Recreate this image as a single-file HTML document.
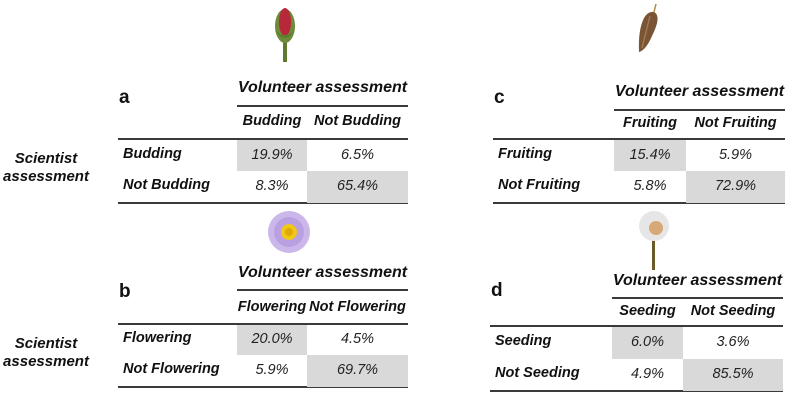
<!DOCTYPE html>
<html><head><meta charset="utf-8"><style>
body{margin:0;background:#fff;}
#root{position:relative;width:810px;height:410px;overflow:hidden;font-family:"Liberation Sans",Arial,sans-serif;color:#111;}
.t{position:absolute;white-space:nowrap;font-style:italic;font-size:14.5px;line-height:16px;}
.b{font-weight:bold;}
.ln{position:absolute;height:2px;background:#3a3a3a;}
.sh{position:absolute;background:#d9d9d9;}
.lbl{position:absolute;font-weight:bold;font-size:19px;line-height:20px;}
</style></head><body>
<div id="root">
<div class="t b" style="left:2px;top:150px;text-align:center;width:88px;font-size:15px;line-height:18px">Scientist<br>assessment</div>
<div class="t b" style="left:2px;top:335px;text-align:center;width:88px;font-size:15px;line-height:18px">Scientist<br>assessment</div>

<svg style="position:absolute;left:270px;top:0" width="30" height="62">
<rect x="13" y="40" width="4" height="22" fill="#5f7a2e"/>
<ellipse cx="15" cy="26" rx="10" ry="17" fill="#6d8b3a"/>
<ellipse cx="15" cy="22" rx="6" ry="14" fill="#b8283a"/>
<path d="M5 30 Q15 46 25 30 Q15 40 5 30" fill="#5d7c30"/>
</svg>
<svg style="position:absolute;left:636px;top:2px" width="26" height="52">
<path d="M20 2 L18 10" stroke="#b08a4a" stroke-width="1.5"/>
<path d="M18 10 Q26 14 16 34 Q10 48 3 50 Q2 28 8 16 Q12 9 18 10Z" fill="#7a5535"/>
<path d="M14 14 Q10 30 6 46" stroke="#a07850" stroke-width="1.5" fill="none"/>
</svg>
<svg style="position:absolute;left:264px;top:208px" width="50" height="50">
<circle cx="25" cy="24" r="21" fill="#cbb7ea"/>
<circle cx="25" cy="24" r="15" fill="#b9a0e0"/>
<circle cx="25" cy="24" r="8" fill="#f2c816"/>
<circle cx="25" cy="24" r="4" fill="#e0a80a"/>
</svg>
<svg style="position:absolute;left:630px;top:206px" width="50" height="64">
<rect x="22" y="30" width="3" height="34" fill="#6b5a2a"/>
<circle cx="24" cy="20" r="15" fill="#e6e6e6"/>
<circle cx="26" cy="22" r="7" fill="#d8a878"/>
</svg>
<div id="panels"></div>
</div>
<script>
const panelLetters = ['a','b','c','d'];
const rowLabels = [['Budding','Not Budding'],['Flowering','Not Flowering'],['Fruiting','Not Fruiting'],['Seeding','Not Seeding']];
const colLabels = [['Budding','Not Budding'],['Flowering','Not Flowering'],['Fruiting','Not Fruiting'],['Seeding','Not Seeding']];
const cellValues = [[[19.9,6.5],[8.3,65.4]],[[20.0,4.5],[5.9,69.7]],[[15.4,5.9],[5.8,72.9]],[[6.0,3.6],[4.9,85.5]]];
// layout (not data)
const L=[{x0:118,xs:237,xm:307,xe:408,hy:79,l1:105,cy:113,l2:138,r1:139,r2:170,r3:202,ly:88},
{x0:118,xs:237,xm:307,xe:408,hy:264,l1:289,cy:299,l2:323,r1:324,r2:354,r3:386,ly:282},
{x0:493,xs:614,xm:686,xe:785,hy:83,l1:109,cy:115,l2:138,r1:139,r2:170,r3:202,ly:88},
{x0:490,xs:612,xm:683,xe:783,hy:272,l1:297,cy:303,l2:325,r1:326,r2:358,r3:390,ly:281}];
const host=document.getElementById('panels');
function add(cls,style,text){const d=document.createElement('div');d.className=cls;d.style.cssText=style;if(text!=null)d.textContent=text;host.appendChild(d);return d;}
panelLetters.forEach((p,i)=>{const g=L[i];
 let e=add('lbl',`left:${g.x0+1}px;top:${g.ly}px`,p);
 
 
 e=add('t b',`left:${g.xs-10}px;width:${g.xe-g.xs+20}px;text-align:center;top:${g.hy}px;font-size:16px;line-height:18px`,'Volunteer assessment');
 
 
 e=add('ln',`left:${g.xs}px;width:${g.xe-g.xs}px;top:${g.l1}px`);
 
 
 e=add('ln',`left:${g.x0}px;width:${g.xe-g.x0}px;top:${g.l2}px`);
 
 
 e=add('ln',`left:${g.x0}px;width:${g.xe-g.x0}px;top:${g.r3}px`);
 
 
 const cx=[[g.xs,g.xm],[g.xm,g.xe]], ry=[[g.r1,g.r2],[g.r2,g.r3]];
 colLabels[i].forEach((c,j)=>{e=add('t b',`left:${cx[j][0]-6}px;width:${cx[j][1]-cx[j][0]+12}px;text-align:center;top:${g.cy}px`,c);
  
  });
 rowLabels[i].forEach((r,k)=>{e=add('t b',`left:${g.x0+5}px;top:${ry[k][0]+(ry[k][1]-ry[k][0]-16)/2-1}px`,r);
  
  
  cellValues[i][k].forEach((v,j)=>{
   if(j===k){e=add('sh',`left:${cx[j][0]}px;width:${cx[j][1]-cx[j][0]}px;top:${ry[k][0]+1}px;height:${ry[k][1]-ry[k][0]}px`);
    
    }
   e=add('t',`left:${cx[j][0]}px;width:${cx[j][1]-cx[j][0]}px;text-align:center;top:${ry[k][0]+(ry[k][1]-ry[k][0]-16)/2}px;color:#222`,v.toFixed(1)+'%');
   
   
  });});
});
</script>
</body></html>
